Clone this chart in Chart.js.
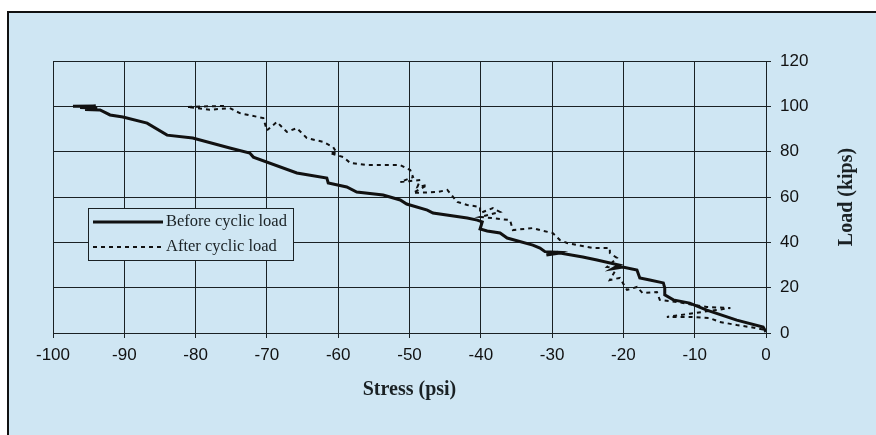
<!DOCTYPE html>
<html lang="en">
<head>
    <meta charset="UTF-8">
    <title>Load vs Stress</title>
    <style>
        body {
            margin: 0;
            background: #ffffff;
        }
        #wrap {
            width: 876px;
            height: 435px;
        }
    </style>
</head>
<body>
    <div id="wrap"><canvas id="stressChart" width="876" height="435"></canvas></div>

    <script src="https://cdn.jsdelivr.net/npm/chart.js"></script>
    <script>
        // stress (psi) and load (kips)
        const beforeStress = [0, -0.4, -4.1, -8.3, -10.7, -13.0, -14.2, -14.2, -14.4, -16.3, -17.7, -18.1, -20.1, -21.5, -20.6, -23.7, -25.7, -28.9, -30.8, -29.2, -31.0, -31.7, -32.7, -36.3, -37.3, -39.1, -40.1, -39.8, -40.5, -41.9, -46.7, -47.5, -50.4, -51.3, -53.7, -57.4, -58.8, -61.4, -61.6, -65.8, -71.9, -72.4, -75.2, -80.4, -84.0, -86.8, -90.2, -92.0, -93.4, -95.5, -93.8, -96.2, -94.0, -97.2];
        const beforeLoad = [0.5, 2.6, 5.7, 10.1, 13.2, 14.6, 16.8, 19.9, 22.1, 23.4, 24.3, 27.8, 29.1, 28.4, 30.0, 32.2, 33.5, 35.3, 34.4, 35.6, 35.9, 37.5, 38.8, 41.9, 44.1, 45.0, 45.9, 49.0, 49.8, 50.7, 52.9, 54.2, 56.9, 58.7, 60.9, 62.2, 64.4, 66.2, 68.4, 70.6, 77.6, 79.4, 81.6, 86.0, 87.3, 92.6, 95.3, 96.2, 98.4, 98.6, 99.3, 99.5, 100.2, 100.0];

        const afterStress = [-0.4, -2.2, -4.1, -6.5, -7.9, -10.7, -13.9, -10.7, -5.0, -8.3, -10.2, -12.5, -14.9, -15.3, -17.3, -18.1, -19.5, -20.5, -21.9, -20.9, -22.3, -20.9, -21.9, -21.9, -24.3, -26.5, -27.9, -28.9, -29.9, -31.7, -32.7, -35.5, -35.9, -38.4, -40.1, -37.3, -38.3, -40.1, -40.1, -41.9, -43.3, -44.7, -46.1, -49.5, -47.5, -48.9, -48.5, -51.3, -49.5, -49.9, -51.3, -56.0, -58.3, -59.3, -61.2, -60.2, -60.7, -62.1, -64.4, -65.8, -67.2, -68.6, -70.0, -70.5, -73.8, -75.2, -78.0, -81.2, -76.0];
        const afterLoad = [1.5, 2.6, 3.5, 4.9, 6.6, 7.1, 7.1, 8.5, 11.0, 11.5, 12.4, 13.7, 14.6, 18.1, 17.6, 20.3, 19.0, 24.3, 23.4, 28.7, 29.1, 33.1, 35.3, 37.5, 37.5, 38.8, 39.7, 41.0, 44.1, 45.4, 46.3, 45.4, 49.8, 50.7, 51.2, 53.4, 55.1, 52.9, 55.6, 56.5, 57.8, 63.1, 62.2, 61.8, 65.3, 64.4, 67.5, 66.6, 68.8, 71.9, 74.1, 74.1, 75.0, 77.6, 79.4, 79.4, 82.0, 84.3, 86.0, 90.4, 88.7, 93.1, 89.4, 94.8, 97.0, 99.2, 98.5, 99.7, 100.2];

        const xTicks = [-100, -90, -80, -70, -60, -50, -40, -30, -20, -10, 0];
        const yTicks = [0, 20, 40, 60, 80, 100, 120];
        const seriesNames = ["Before cyclic load", "After cyclic load"];

        const blue = "#cfe6f3";
        const ink = "#1a2124";

        function toPoints(xs, ys) {
            return xs.map((x, i) => ({ x: x, y: ys[i] }));
        }

        // background panel with the frame on the left and top
        const framePlugin = {
            id: "frame",
            beforeDraw(chart) {
                const ctx = chart.ctx;
                ctx.save();
                ctx.fillStyle = "#ffffff";
                ctx.fillRect(0, 0, chart.width, chart.height);
                ctx.fillStyle = blue;
                ctx.fillRect(7, 11, chart.width - 7, chart.height - 11);
                ctx.strokeStyle = "#111";
                ctx.lineWidth = 2;
                ctx.beginPath();
                ctx.moveTo(8, chart.height);
                ctx.lineTo(8, 12);
                ctx.lineTo(chart.width, 12);
                ctx.stroke();
                ctx.restore();
            }
        };

        // axis titles and the boxed legend
        const labelsPlugin = {
            id: "labels",
            afterDraw(chart) {
                const ctx = chart.ctx;
                const a = chart.chartArea;
                ctx.save();
                ctx.fillStyle = ink;
                ctx.font = "bold 20px 'Liberation Serif', 'Times New Roman', serif";
                ctx.textAlign = "center";
                ctx.textBaseline = "middle";
                ctx.fillText("Stress (psi)", (a.left + a.right) / 2, 390);
                ctx.translate(847, (a.top + a.bottom) / 2);
                ctx.rotate(-Math.PI / 2);
                ctx.fillText("Load (kips)", 0, 0);
                ctx.restore();

                // legend
                ctx.save();
                ctx.fillStyle = blue;
                ctx.fillRect(88, 208, 205, 52);
                ctx.strokeStyle = ink;
                ctx.lineWidth = 1;
                ctx.strokeRect(88.5, 208.5, 205, 52);
                chart.data.datasets.forEach((ds, i) => {
                    const y = 222 + i * 25;
                    ctx.strokeStyle = ds.borderColor;
                    ctx.lineWidth = ds.borderWidth;
                    ctx.setLineDash(ds.borderDash || []);
                    ctx.beginPath();
                    ctx.moveTo(93, y);
                    ctx.lineTo(163, y);
                    ctx.stroke();
                    ctx.setLineDash([]);
                    ctx.fillStyle = ink;
                    ctx.font = "16.5px 'Liberation Serif', 'Times New Roman', serif";
                    ctx.textAlign = "left";
                    ctx.textBaseline = "middle";
                    ctx.fillText(ds.label, 166, y);
                });
                ctx.restore();
            }
        };

        new Chart(document.getElementById("stressChart"), {
            type: "scatter",
            data: {
                datasets: [
                    {
                        label: seriesNames[0],
                        data: toPoints(beforeStress, beforeLoad),
                        showLine: true,
                        borderColor: "#111111",
                        borderWidth: 3,
                        pointRadius: 0,
                        tension: 0
                    },
                    {
                        label: seriesNames[1],
                        data: toPoints(afterStress, afterLoad),
                        showLine: true,
                        borderColor: "#111111",
                        borderWidth: 2,
                        borderDash: [4, 4],
                        pointRadius: 0,
                        tension: 0
                    }
                ]
            },
            options: {
                responsive: false,
                animation: false,
                layout: { padding: { left: 53, top: 61, right: 0, bottom: 0 } },
                plugins: {
                    legend: { display: false },
                    tooltip: { enabled: false }
                },
                scales: {
                    x: {
                        type: "linear",
                        min: xTicks[0],
                        max: xTicks[xTicks.length - 1],
                        afterBuildTicks: s => { s.ticks = xTicks.map(v => ({ value: v })); },
                        afterFit: s => { s.height = 102; },
                        grid: { color: ink, lineWidth: 1, tickLength: 5 },
                        border: { color: ink, width: 1 },
                        ticks: {
                            color: "#111",
                            padding: 7,
                            maxRotation: 0,
                            font: { family: "'Liberation Sans', Arial, sans-serif", size: 17 }
                        }
                    },
                    y: {
                        type: "linear",
                        position: "right",
                        min: yTicks[0],
                        max: yTicks[yTicks.length - 1],
                        afterBuildTicks: s => { s.ticks = yTicks.map(v => ({ value: v })); },
                        afterFit: s => { s.width = 110; },
                        grid: { color: ink, lineWidth: 1, tickLength: 5 },
                        border: { color: ink, width: 1 },
                        ticks: {
                            color: "#111",
                            padding: 9,
                            font: { family: "'Liberation Sans', Arial, sans-serif", size: 17 }
                        }
                    }
                }
            },
            plugins: [framePlugin, labelsPlugin]
        });
    </script>
</body>
</html>
